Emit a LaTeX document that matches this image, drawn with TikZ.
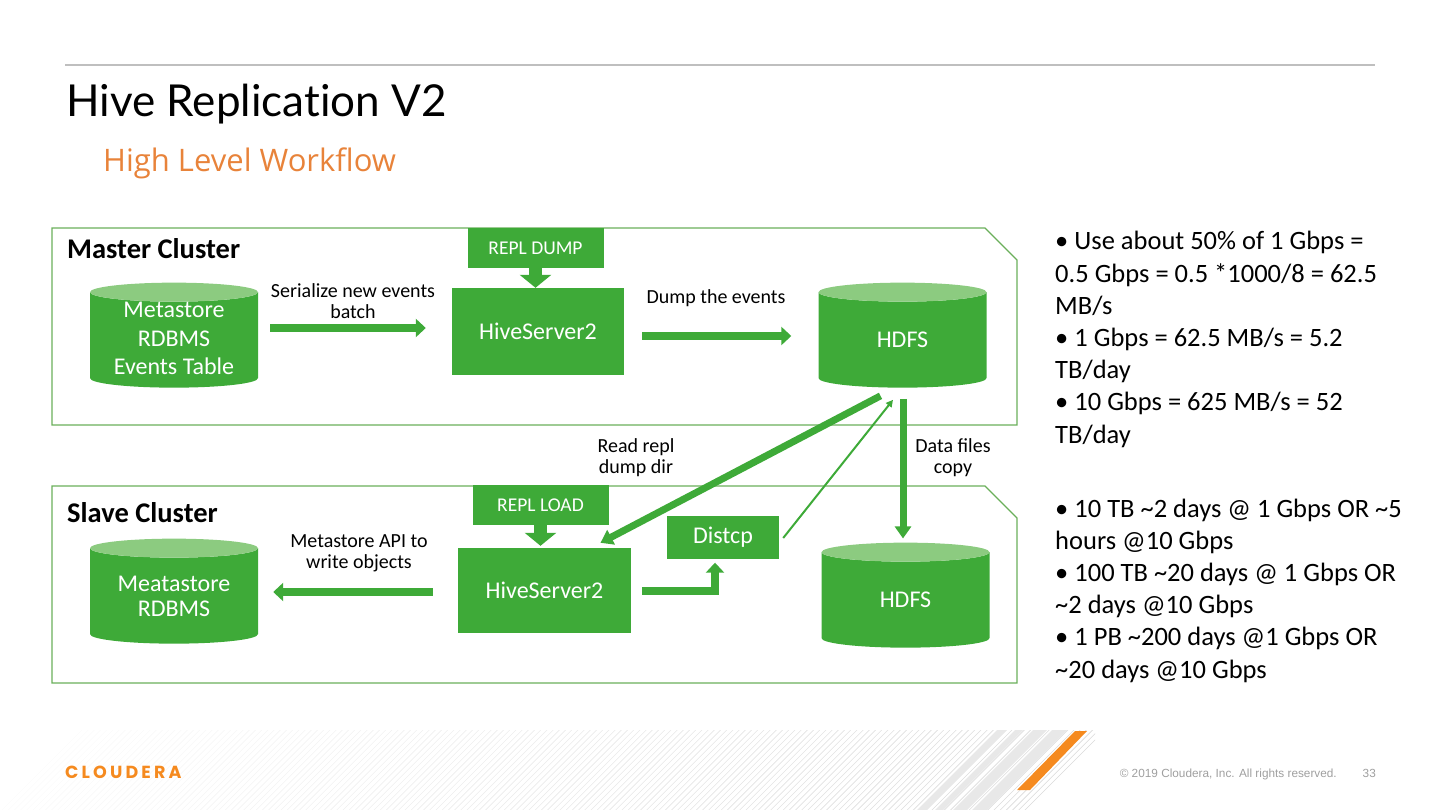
\documentclass[tikz,border=0pt]{standalone}
\usepackage{fontspec}
\setmainfont{Carlito}
\newfontfamily\latofont{Lato}[Ligatures=NoCommon]
\newfontfamily\subfont{Open Sans}
\newfontfamily\logofont{Poppins}[LetterSpace=18]
\newfontfamily\footfont{Liberation Sans}
\usetikzlibrary{shapes.geometric,arrows.meta,calc}
\definecolor{hgreen}{HTML}{3EAA38}
\definecolor{hlight}{HTML}{8CCB80}
\definecolor{hframe}{HTML}{6AAF5A}
\definecolor{corange}{HTML}{F58A1F}
\definecolor{suborange}{HTML}{E8833A}
\tikzset{
  box/.style={fill=hgreen,text=white,inner sep=0pt,font=\fontsize{24}{28}\selectfont},
  tag/.style={fill=hgreen,text=white,inner sep=0pt,minimum width=136,minimum height=40,font=\fontsize{19.5}{22}\selectfont},
  db/.style={cylinder,shape border rotate=90,aspect=0.38,cylinder uses custom fill,
    cylinder body fill=hgreen,cylinder end fill=hlight,inner sep=0pt,
    text width=50pt,text height=15.5pt,text depth=0pt,
    minimum width=168,minimum height=105},
  dbtext/.style={text=white,align=center,inner sep=0pt,font=\fontsize{24}{#1}\selectfont},
  dbtext/.default=28,
  lbl/.style={align=center,inner sep=0pt,font=\fontsize{20}{21}\selectfont},
  fat/.style={hgreen,line width=8,-{Triangle[length=10pt,width=18pt]}},
  mid/.style={hgreen,line width=7,-{Triangle[length=12pt,width=16pt]}},
  slim/.style={hgreen,line width=2,-{Triangle[length=7pt,width=7pt]}},
  callout/.style={hgreen,line width=13,-{Triangle[length=13pt,width=31pt]}},
  frame/.style={hframe,line width=1.3},
}
\begin{document}
\begin{tikzpicture}[x=1pt,y=-1pt]
  \useasboundingbox (0,0) rectangle (1440,810);
  % footer stripes
  \begin{scope}
    \clip (0,730) rectangle (1095,810);
    \foreach \i in {0,...,165} {
      \pgfmathsetmacro\op{0.1+0.9*\i/165}
      \draw[gray!30,line width=0.6,opacity=\op] (\i*6.2,812) -- ++(84,-84);
    }
    \foreach \a/\b in {997/1007,1015/1023,1033/1047,1052/1067}
      \fill[gray!18] (\a,730) -- (\b,730) -- (\b-80,810) -- (\a-80,810) -- cycle;
    \fill[corange] (1075,731) -- (1087,731) -- (1030,790) -- (1017,790) -- cycle;
  \end{scope}
  \draw[gray!50,line width=2] (65,65) -- (1375,65);
  \draw
    (66,117) node[anchor=base west,inner sep=0pt,font=\latofont\fontsize{44}{48}\selectfont] (title) {Hive Replication V2}
    (103,172) node[anchor=base west,inner sep=0pt,text=suborange,font=\subfont\fontsize{31}{34}\selectfont] (subtitle) {High Level Workflow}
    (65,778) node[anchor=base west,inner sep=0pt,text=corange,font=\logofont\bfseries\fontsize{17.5}{18}\selectfont] (logo) {CLOUDERA}
    (1337,777) node[anchor=base east,inner sep=0pt,text=gray!75,font=\footfont\fontsize{11.8}{13}\selectfont] (copyright) {\textcopyright\ 2019 Cloudera, Inc. All rights reserved.}
    (1376,777) node[anchor=base east,inner sep=0pt,text=gray!75,font=\footfont\fontsize{11.8}{13}\selectfont] (page) {33};
  % cluster frames
  \draw[frame] (52,228) -- (985,228) -- (1017,260) -- (1017,425) -- (52,425) -- cycle;
  \draw[frame] (52,486) -- (985,486) -- (1017,518) -- (1017,683) -- (52,683) -- cycle;
  \draw
    (67,259) node[anchor=base west,inner sep=0pt,font=\bfseries\fontsize{28.5}{30}\selectfont] (master) {Master Cluster}
    (67,522) node[anchor=base west,inner sep=0pt,font=\bfseries\fontsize{28.5}{30}\selectfont] (slave) {Slave Cluster}
    (174,340) node[db,label={[dbtext=28.5,yshift=1.5pt]center:Metastore\\RDBMS\\Events Table}] (meta1) {}
    (535.5,248) node[tag] (dump) {REPL DUMP}
    (538,331.5) node[box,minimum width=172,minimum height=87] (hive1) {HiveServer2}
    (902.5,340) node[db,label={[dbtext]center:HDFS}] (hdfs1) {}
    (174,596) node[db,label={[dbtext=25]center:Meatastore\\RDBMS}] (meta2) {}
    (540.5,505) node[tag] (load) {REPL LOAD}
    (544.5,590.5) node[box,minimum width=173,minimum height=85] (hive2) {HiveServer2}
    (723,537) node[box,minimum width=112,minimum height=43] (distcp) {Distcp}
    (905.5,600) node[db,label={[dbtext]center:HDFS}] (hdfs2) {}
    (353,301) node[lbl] (serialize) {Serialize new events\\batch}
    (716,303) node[lbl,anchor=base] (dumplbl) {Dump the events}
    (636,458) node[lbl] (readlbl) {Read repl\\dump dir}
    (953,458) node[lbl] (copylbl) {Data files\\copy}
    (359,553) node[lbl] (apilbl) {Metastore API to\\write objects};
  % notes (base is the last line)
  \draw
    (1055,443) node[anchor=base west,inner sep=0pt,align=left,font=\fontsize{26.5}{32.2}\selectfont] (notes1)
      {\textbullet\ Use about 50\% of 1 Gbps =\\0.5 Gbps = 0.5 *1000/8 = 62.5\\MB/s\\\textbullet\ 1 Gbps = 62.5 MB/s = 5.2\\TB/day\\\textbullet\ 10 Gbps = 625 MB/s = 52\\TB/day}
    (1055,678) node[anchor=base west,inner sep=0pt,align=left,font=\fontsize{26.5}{32.2}\selectfont] (notes2)
      {\textbullet\ 10 TB \textasciitilde2 days @ 1 Gbps OR \textasciitilde5\\hours @10 Gbps\\\textbullet\ 100 TB \textasciitilde20 days @ 1 Gbps OR\\\textasciitilde2 days @10 Gbps\\\textbullet\ 1 PB \textasciitilde200 days @1 Gbps OR\\\textasciitilde20 days @10 Gbps};
  \begin{scope}
    \draw[callout] (dump.south) -- (dump.south |- hive1.north);
    \draw[callout,shorten >=2] (load.south) -- (load.south |- hive2.north);
    \draw[fat] ($(meta1.east |- hive1.west)+(12,-3.5)$) -- ($(hive1.west)+(-26,-3.5)$);
    \draw[fat] ($(hive1.east)+(18,4.5)$) -- ($(hive1.east -| hdfs1.west)+(-27,4.5)$);
    \draw[fat] ($(hive2.west)+(-25,1.5)$) -- ($(hive2.west -| meta2.east)+(15,1.5)$);
    \draw[fat] ($(hive2.east)+(11,0)$) -| ($(distcp.south)+(-8,4)$);
    \draw[mid] ($(hdfs1.south)+(-22,8)$) -- ($(hive2.north)+(56,-5)$);
    \draw[slim] ($(distcp.east)+(4,1)$) -- ($(hdfs1.south)+(-9.5,12)$);
    \draw[mid] ($(hdfs1.south)+(0.5,11)$) -- ($(hdfs1.south |- hdfs2.north)+(0.5,-4)$);
  \end{scope}
\end{tikzpicture}
\end{document}
